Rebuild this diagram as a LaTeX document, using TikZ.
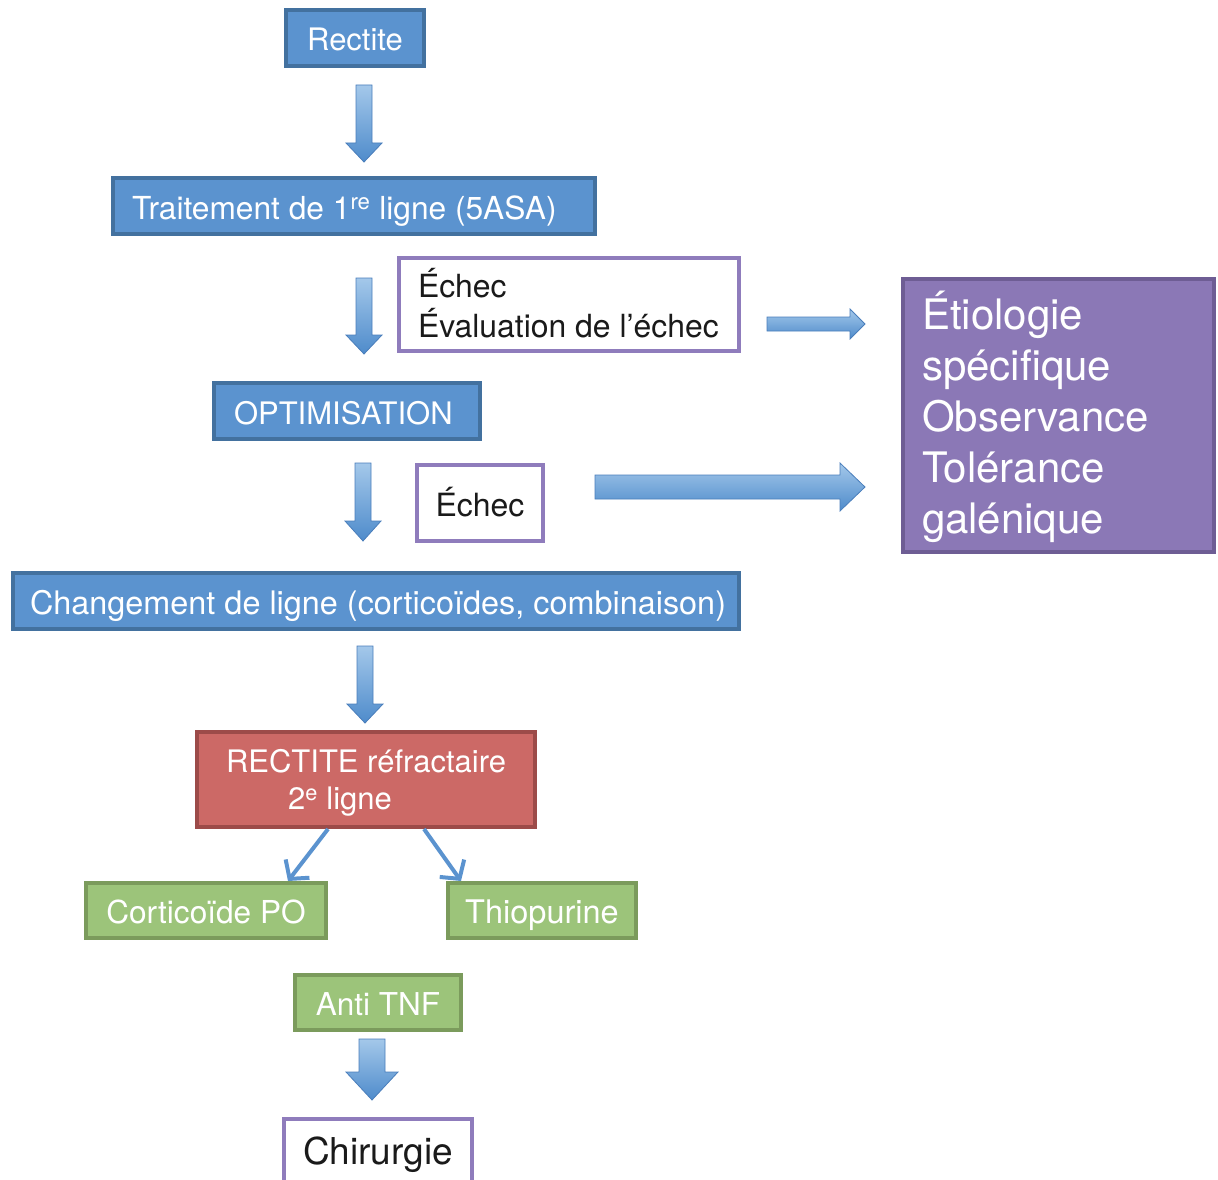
\documentclass[tikz,border=0pt]{standalone}
\usepackage{fontspec}
\setmainfont{TeX Gyre Heros}
\usetikzlibrary{arrows.meta,calc}
\definecolor{bfill}{HTML}{5B93CF}
\definecolor{bline}{HTML}{43719F}
\definecolor{pfill}{HTML}{8B78B6}
\definecolor{pline}{HTML}{6E5D94}
\definecolor{poutline}{HTML}{8F7CBC}
\definecolor{rfill}{HTML}{CC6966}
\definecolor{rline}{HTML}{9C4B49}
\definecolor{gfill}{HTML}{9CC47A}
\definecolor{gline}{HTML}{7B9B5C}
\definecolor{atop}{HTML}{A4C8EA}
\definecolor{abot}{HTML}{4E8BCB}
\definecolor{aline}{HTML}{4A7EBB}
\definecolor{txt}{HTML}{1A1A1A}
\newcommand{\fatdown}[6]{% x, ytop, yhead, ytip, shafthalf, headhalf
  \path[fatarrow] (#1-#5,#2) -- (#1+#5,#2) -- (#1+#5,#3) -- (#1+#6,#3) -- (#1,#4)
    -- (#1-#6,#3) -- (#1-#5,#3) -- cycle;}
\newcommand{\fatright}[6]{% y, xstart, xhead, xtip, shafthalf, headhalf
  \path[fatarrow] (#2,#1-#5) -- (#3,#1-#5) -- (#3,#1-#6) -- (#4,#1) -- (#3,#1+#6)
    -- (#3,#1+#5) -- (#2,#1+#5) -- cycle;}
\newcommand{\leftin}[2]{\makebox[#1][l]{#2}}
\newcommand{\lowerink}[2]{\raisebox{-#1}[\height][\depth]{#2}}
\begin{document}
\begin{tikzpicture}[x=1pt,y=-1pt,
  box/.style={rectangle, line width=4pt, inner sep=0pt, font=\fontsize{31}{37}\selectfont},
  fs/.style={font=\fontsize{#1}{37}\selectfont},
  oneline/.style={text height=26pt, text depth=0pt},
  bluebox/.style={box, oneline, fill=bfill, draw=bline, text=white},
  whitebox/.style={box, fill=white, draw=poutline, text=txt},
  purplebox/.style={box, fill=pfill, draw=pline, text=white, font=\fontsize{42}{51}\selectfont},
  redbox/.style={box, fill=rfill, draw=rline, text=white},
  greenbox/.style={box, oneline, fill=gfill, draw=gline, text=white},
  fatarrow/.style={top color=atop, bottom color=abot, draw=aline, line width=0.8pt, line join=miter},
  thinarrow/.style={draw=bfill, line width=4pt, -{Straight Barb[length=13pt,width=30pt,line width=4pt]}}
]
\useasboundingbox (0,0) rectangle (1218,1180);

\node[bluebox, fs=31, minimum width=138pt, minimum height=56pt] (rectite) at (355,38) {Rectite};
\node[bluebox, fs=31.7, minimum width=482pt, minimum height=56pt] (trait) at (354,206) {\leftin{444pt}{Traitement de 1\textsuperscript{re} ligne (5ASA)}};
\node[whitebox, fs=31.9, minimum width=340pt, minimum height=93pt] (ech1) at (569,304.5) {\leftin{302pt}{\lowerink{4pt}{\begin{tabular}{@{}l@{}}Échec\\Évaluation de l’échec\end{tabular}}}};
\node[purplebox, minimum width=311pt, minimum height=273pt] (etio) at (1058.5,415.5) {\leftin{273pt}{\lowerink{4.5pt}{\begin{tabular}{@{}l@{}}Étiologie\\spécifique\\Observance\\Tolérance\\galénique\end{tabular}}}};
\node[bluebox, fs=31, minimum width=266pt, minimum height=56pt] (optim) at (347,411) {\leftin{226pt}{OPTIMISATION}};
\node[whitebox, fs=32, oneline, minimum width=126pt, minimum height=76pt] (ech2) at (480,503) {Échec};
\node[bluebox, fs=32.4, minimum width=726pt, minimum height=56pt] (chang) at (376,601) {\leftin{692pt}{Changement de ligne (corticoïdes, combinaison)}};
\node[redbox, fs=31, minimum width=338pt, minimum height=95pt] (refr) at (366,779.5) {\lowerink{4.5pt}{\begin{tabular}{@{}c@{}}RECTITE réfractaire\\2\textsuperscript{e} ligne\rule{52pt}{0pt}\end{tabular}}};
\node[greenbox, fs=31.6, minimum width=240pt, minimum height=55pt] (cort) at (206,910.5) {Corticoïde PO};
\node[greenbox, fs=32.5, minimum width=188pt, minimum height=55pt] (thio) at (542,910.5) {Thiopurine};
\node[greenbox, fs=31.5, minimum width=166pt, minimum height=55pt] (anti) at (378,1002.5) {Anti TNF};
\node[whitebox, minimum width=188pt, minimum height=71pt, font=\fontsize{37}{44}\selectfont] (chir) at (378,1154.5) {Chirurgie};

\fatdown{364}{85}{143}{162}{8}{18}
\fatdown{364}{278}{335}{354}{8}{18}
\fatdown{363}{463}{521}{541}{8}{18}
\fatdown{365}{646}{704}{723}{8}{18}
\fatdown{372}{1039}{1072}{1100}{13}{26}
\fatright{324}{767}{850}{865}{7}{15}
\fatright{487}{595}{840}{865}{12}{24}

\draw[thinarrow] ([xshift=-38pt]refr.south) -- ([xshift=82pt]cort.north);
\draw[thinarrow] ([xshift=58pt]refr.south) -- ([xshift=-81pt]thio.north);
\end{tikzpicture}
\end{document}
